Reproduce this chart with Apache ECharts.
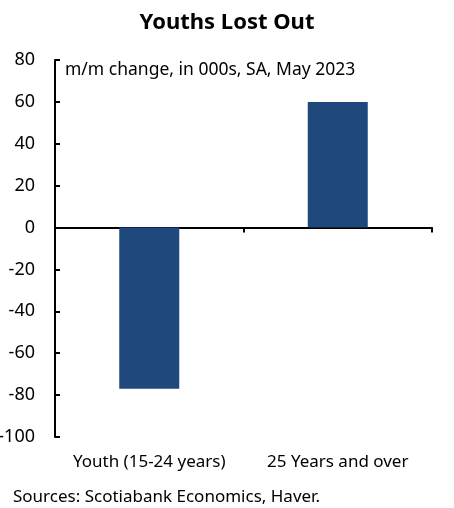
<!DOCTYPE html>
<html>
<head>
<meta charset="utf-8">
<script src="https://cdn.jsdelivr.net/npm/echarts@6/dist/echarts.min.js"></script>
<style>
  html, body { margin: 0; padding: 0; background: #fff; }
  #chart { width: 454px; height: 508px; }
</style>
</head>
<body>
<div id="chart"></div>
<script>
const categories = ['Youth (15-24 years)', '25 Years and over'];
const changes = [-77, 60];
const yTicks = { min: -100, max: 80, step: 20 };

document.addEventListener('DOMContentLoaded', function() {
    const chart = echarts.init(document.getElementById('chart'));
    const font = '"Noto Sans", Lato, sans-serif';

    const option = {
        animation: false,
        backgroundColor: '#fff',
        textStyle: { fontFamily: font },
        title: [{
            text: 'Youths Lost Out',
            left: 'center',
            top: 7,
            textStyle: { fontFamily: font, fontSize: 22, fontWeight: 'bold', color: '#000' }
        }, {
            text: 'm/m change, in 000s, SA, May 2023',
            left: 60,
            top: 56,
            textStyle: { fontFamily: font, fontSize: 17.5, fontWeight: 'normal', color: '#000' }
        }, {
            text: 'Sources: Scotiabank Economics, Haver.',
            left: 8,
            top: 484,
            textStyle: { fontFamily: font, fontSize: 17, fontWeight: 'normal', color: '#000' }
        }],
        grid: { left: 55, right: 22, top: 60, bottom: 71, outerBoundsMode: 'none', containLabel: false },
        xAxis: [{
            type: 'category',
            data: categories,
            axisLine: { onZero: true, lineStyle: { color: '#000', width: 2 } },
            axisTick: { show: true, inside: false, length: 5, lineStyle: { color: '#000', width: 2 } },
            axisLabel: { show: false }
        }, {
            type: 'category',
            data: categories,
            position: 'bottom',
            axisLine: { show: false },
            axisTick: { show: false },
            axisLabel: { show: true, interval: 0, color: '#000', fontSize: 17, margin: 17, fontFamily: font }
        }],
        yAxis: {
            type: 'value',
            min: yTicks.min,
            max: yTicks.max,
            interval: yTicks.step,
            axisLine: { show: true, lineStyle: { color: '#000', width: 2 } },
            axisTick: { show: true, inside: true, length: 5, lineStyle: { color: '#000', width: 2 } },
            axisLabel: { color: '#000', fontSize: 18, margin: 20, fontFamily: font },
            splitLine: { show: false }
        },
        series: [{
            type: 'bar',
            data: changes,
            barWidth: 60,
            itemStyle: { color: '#1f497d' }
        }]
    };

    chart.setOption(option);
});
</script>
</body>
</html>
